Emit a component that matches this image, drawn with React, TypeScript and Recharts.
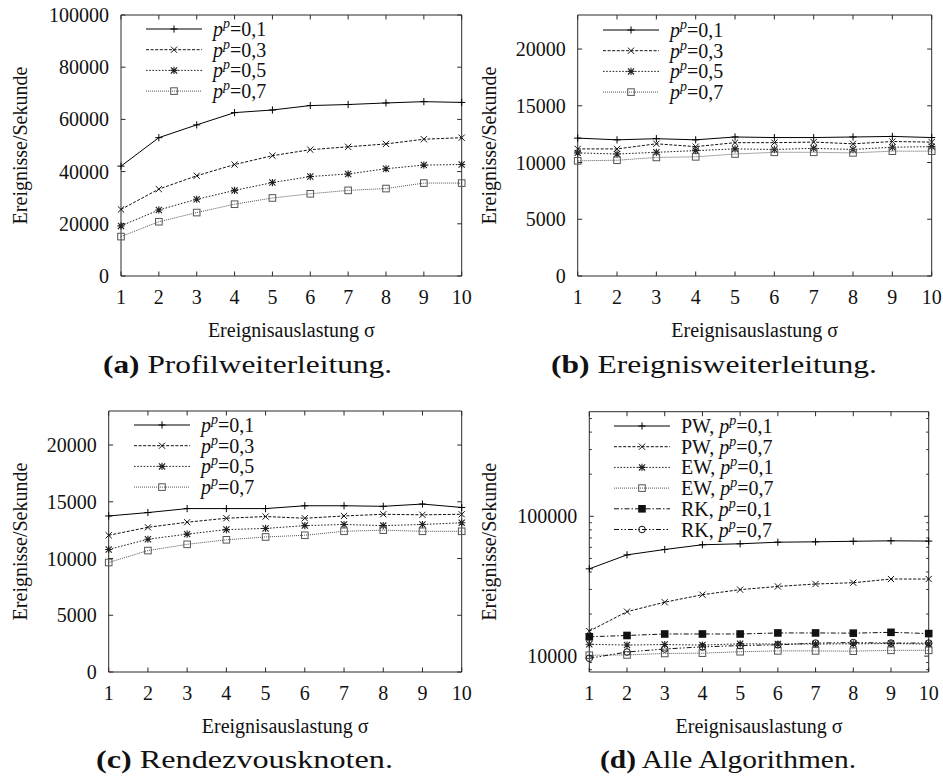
import React from 'react';
import { LineChart, Line, XAxis, YAxis, Legend } from 'recharts';

// ---------------- data ----------------
const sigma = [1, 2, 3, 4, 5, 6, 7, 8, 9, 10];
const xTicks = [1, 2, 3, 4, 5, 6, 7, 8, 9, 10];

// (a) Profilweiterleitung
const pw01 = [42100, 53000, 57900, 62600, 63600, 65300, 65700, 66300, 66800, 66500];
const pw03 = [25500, 33300, 38400, 42700, 46100, 48400, 49500, 50600, 52400, 53000];
const pw05 = [19200, 25300, 29400, 32800, 35800, 38100, 39100, 41100, 42500, 42700];
const pw07 = [15100, 20800, 24300, 27500, 29900, 31500, 32800, 33500, 35600, 35600];

// (b) Ereignisweiterleitung
const ew01 = [12150, 12000, 12100, 12000, 12250, 12200, 12200, 12250, 12300, 12200];
const ew03 = [11200, 11200, 11650, 11400, 11750, 11750, 11800, 11650, 11850, 11800];
const ew05 = [10850, 10750, 10900, 11050, 11200, 11150, 11250, 11150, 11350, 11400];
const ew07 = [10150, 10200, 10450, 10500, 10750, 10900, 10900, 10850, 11000, 11000];

// (c) Rendezvousknoten
const rk01 = [13750, 14050, 14400, 14400, 14400, 14650, 14650, 14600, 14800, 14500];
const rk03 = [12050, 12750, 13200, 13550, 13700, 13550, 13750, 13900, 13850, 13900];
const rk05 = [10800, 11700, 12150, 12550, 12650, 12900, 13000, 12900, 13000, 13150];
const rk07 = [9650, 10700, 11250, 11650, 11900, 12050, 12400, 12500, 12400, 12400];

const linTicksA = [0, 20000, 40000, 60000, 80000, 100000];
const linTicksBC = [0, 5000, 10000, 15000, 20000];
const logTicksMajor = [10000, 100000];
const logTicksAll = [8000, 9000, 10000, 20000, 30000, 40000, 50000, 60000, 70000, 80000, 90000, 100000, 200000, 300000, 400000, 500000];

const pValues = ['0,1', '0,3', '0,5', '0,7'];
const xTitle = 'Ereignisauslastung σ';
const yTitle = 'Ereignisse/Sekunde';

// ---------------- styles ----------------
const FONT = '"Liberation Serif", "Times New Roman", serif';
const AXIS_COLOR = '#2a2a2a';
const TEXT_COLOR = '#111';
const TICK = 4.5;
const MINOR = 2.5;

type Marker = 'plus' | 'cross' | 'star' | 'square' | 'fsquare' | 'circle';
interface Series {
  key: string;
  values: number[];
  marker: Marker;
  dash?: string;
  color: string;
  prefix: string;
  p: string;
}

const STYLE = {
  s1: { marker: 'plus' as Marker, dash: undefined, color: '#000' },
  s2: { marker: 'cross' as Marker, dash: '3 1.6', color: '#111' },
  s3: { marker: 'star' as Marker, dash: '1.6 1.6', color: '#222' },
  s4: { marker: 'square' as Marker, dash: '1 1', color: '#555' },
  s5: { marker: 'fsquare' as Marker, dash: '5 2 1.5 2', color: '#111' },
  s6: { marker: 'circle' as Marker, dash: '5 2 1.5 2 1.5 2', color: '#111' },
};

function markerShape(m: Marker, cx: number, cy: number, color: string) {
  const s = 3.6;
  const c = 3.1;
  const plus = `M${cx - s},${cy}H${cx + s}M${cx},${cy - s}V${cy + s}`;
  const cross = `M${cx - c},${cy - c}L${cx + c},${cy + c}M${cx - c},${cy + c}L${cx + c},${cy - c}`;
  switch (m) {
    case 'plus':
      return <path d={plus} stroke={color} strokeWidth={1} fill="none" />;
    case 'cross':
      return <path d={cross} stroke={color} strokeWidth={1} fill="none" />;
    case 'star':
      return <path d={plus + cross} stroke={color} strokeWidth={1.1} fill="none" />;
    case 'square':
      return <rect x={cx - 3.3} y={cy - 3.3} width={6.6} height={6.6} stroke={color} strokeWidth={1} fill="none" />;
    case 'fsquare':
      return <rect x={cx - 3.8} y={cy - 3.8} width={7.6} height={7.6} fill={color} stroke="none" />;
    case 'circle':
      return <circle cx={cx} cy={cy} r={3.3} stroke={color} strokeWidth={1} fill="none" />;
  }
  return null;
}

function makeDot(m: Marker, color: string) {
  return (props: any) => {
    const { cx, cy, index } = props;
    if (cx == null || cy == null) return <g key={`e${index}`} />;
    return <g key={`d${index}`}>{markerShape(m, cx, cy, color)}</g>;
  };
}

function PLabel({ x, y, prefix, p }: { x: number; y: number; prefix: string; p: string }) {
  return (
    <text x={x} y={y} fontFamily={FONT} fontSize={20} fill={TEXT_COLOR}>
      {prefix}
      <tspan fontStyle="italic">p</tspan>
      <tspan fontStyle="italic" fontSize={14} dy={-8}>p</tspan>
      <tspan dy={8}>={p}</tspan>
    </text>
  );
}

const ROW = 20.7;

function LegendBox({ payload, series }: { payload: any[]; series: Series[] }) {
  const keys = new Set((payload || []).map((pl: any) => pl.dataKey));
  const filtered = series.filter((s) => keys.has(s.key));
  const list = filtered.length ? filtered : series;
  return (
    <svg width={230} height={list.length * ROW + 14} style={{ display: 'block', overflow: 'visible' }}>
      {list.map((s, i) => {
        const y = 12 + i * ROW;
        return (
          <g key={s.key}>
            <line x1={2} y1={y} x2={58} y2={y} stroke={s.color} strokeWidth={1} strokeDasharray={s.dash} />
            {markerShape(s.marker, 30, y, s.color)}
            <PLabel x={69} y={y + 7} prefix={s.prefix} p={s.p} />
          </g>
        );
      })}
    </svg>
  );
}

interface PanelCfg {
  id: string;
  left: number;
  top: number;
  W: number;
  H: number;
  L: number;
  T: number;
  R: number;
  B: number;
  series: Series[];
  yDomain: [number, number];
  yTicks: number[];
  yMajor: number[];
  log?: boolean;
  legX: number;
  legY: number;
  yTitleX: number;
}

function Panel({ cfg }: { cfg: PanelCfg }) {
  const { W, H, L, T, R, B, series } = cfg;
  const data = sigma.map((x, i) => {
    const row: any = { sigma: x };
    series.forEach((s) => {
      row[s.key] = s.values[i];
    });
    return row;
  });
  const margin = { left: L - 1, top: T - 1, right: W - R - 1, bottom: H - B - 1 };
  const isMajor = (v: number) => cfg.yMajor.includes(v);

  const bottomTick = (props: any) => {
    const { x, y, payload } = props;
    return (
      <g>
        <line x1={x} y1={y} x2={x} y2={y - TICK} stroke={AXIS_COLOR} strokeWidth={1} />
        <text x={x} y={y + 28} textAnchor="middle" fontFamily={FONT} fontSize={20} fill={TEXT_COLOR}>
          {payload.value}
        </text>
      </g>
    );
  };
  const topTick = (props: any) => {
    const { x, y } = props;
    return <line x1={x} y1={y} x2={x} y2={y + TICK} stroke={AXIS_COLOR} strokeWidth={1} />;
  };
  const leftTick = (props: any) => {
    const { x, y, payload } = props;
    const major = isMajor(payload.value);
    return (
      <g>
        <line x1={x} y1={y} x2={x + (major ? TICK : MINOR)} y2={y} stroke={AXIS_COLOR} strokeWidth={1} />
        {major && (
          <text x={x - 12} y={y + 7} textAnchor="end" fontFamily={FONT} fontSize={20} fill={TEXT_COLOR}>
            {String(payload.value)}
          </text>
        )}
      </g>
    );
  };
  const rightTick = (props: any) => {
    const { x, y, payload } = props;
    const major = isMajor(payload.value);
    return <line x1={x} y1={y} x2={x - (major ? TICK : MINOR)} y2={y} stroke={AXIS_COLOR} strokeWidth={1} />;
  };

  const axisLine = { stroke: AXIS_COLOR, strokeWidth: 1 };
  const yScale = cfg.log ? 'log' : 'linear';
  const cx = (L + R) / 2;
  const cy = (T + B) / 2;

  return (
    <div style={{ position: 'absolute', left: cfg.left, top: cfg.top, width: W, height: H }}>
      <LineChart width={W} height={H} data={data} margin={margin}>
        <XAxis
          dataKey="sigma"
          type="number"
          domain={[1, 10]}
          ticks={xTicks}
          interval={0}
          height={1}
          tickSize={0}
          tickMargin={0}
          tickLine={false}
          axisLine={axisLine}
          tick={bottomTick}
          label={{
            value: xTitle,
            content: () => (
              <text x={cx} y={B + 61} textAnchor="middle" fontFamily={FONT} fontSize={20} fill={TEXT_COLOR}>
                {xTitle}
              </text>
            ),
          }}
        />
        <XAxis
          xAxisId="top"
          orientation="top"
          dataKey="sigma"
          type="number"
          domain={[1, 10]}
          ticks={xTicks}
          interval={0}
          height={1}
          tickSize={0}
          tickMargin={0}
          tickLine={false}
          axisLine={axisLine}
          tick={topTick}
        />
        <YAxis
          type="number"
          scale={yScale as any}
          domain={cfg.yDomain}
          allowDataOverflow
          ticks={cfg.yTicks}
          interval={0}
          width={1}
          tickSize={0}
          tickMargin={0}
          tickLine={false}
          axisLine={axisLine}
          tick={leftTick}
          label={{
            value: yTitle,
            content: () => (
              <text
                transform={`translate(${cfg.yTitleX},${cy}) rotate(-90)`}
                x={0}
                y={0}
                textAnchor="middle"
                fontFamily={FONT}
                fontSize={20}
                fill={TEXT_COLOR}
              >
                {yTitle}
              </text>
            ),
          }}
        />
        <YAxis
          yAxisId="right"
          orientation="right"
          type="number"
          scale={yScale as any}
          domain={cfg.yDomain}
          allowDataOverflow
          ticks={cfg.yTicks}
          interval={0}
          width={1}
          tickSize={0}
          tickMargin={0}
          tickLine={false}
          axisLine={axisLine}
          tick={rightTick}
        />
        {series.map((s) => (
          <Line
            key={s.key}
            type="linear"
            dataKey={s.key}
            stroke={s.color}
            strokeWidth={1}
            strokeDasharray={s.dash}
            dot={makeDot(s.marker, s.color)}
            activeDot={false}
            isAnimationActive={false}
          />
        ))}
        <Legend
          layout="vertical"
          verticalAlign="middle"
          align="center"
          wrapperStyle={{
            left: cfg.legX - 2,
            top: cfg.legY - 12,
            width: 230,
            height: series.length * ROW + 14,
            margin: 0,
            padding: 0,
          }}
          content={(props: any) => <LegendBox payload={props.payload} series={series} />}
        />
      </LineChart>
    </div>
  );
}

function mk(key: string, values: number[], st: { marker: Marker; dash?: string; color: string }, prefix: string, p: string): Series {
  return { key, values, marker: st.marker, dash: st.dash, color: st.color, prefix, p };
}

const seriesA = [
  mk('a1', pw01, STYLE.s1, '', pValues[0]),
  mk('a3', pw03, STYLE.s2, '', pValues[1]),
  mk('a5', pw05, STYLE.s3, '', pValues[2]),
  mk('a7', pw07, STYLE.s4, '', pValues[3]),
];
const seriesB = [
  mk('b1', ew01, STYLE.s1, '', pValues[0]),
  mk('b3', ew03, STYLE.s2, '', pValues[1]),
  mk('b5', ew05, STYLE.s3, '', pValues[2]),
  mk('b7', ew07, STYLE.s4, '', pValues[3]),
];
const seriesC = [
  mk('c1', rk01, STYLE.s1, '', pValues[0]),
  mk('c3', rk03, STYLE.s2, '', pValues[1]),
  mk('c5', rk05, STYLE.s3, '', pValues[2]),
  mk('c7', rk07, STYLE.s4, '', pValues[3]),
];
const seriesD = [
  mk('pw1', pw01, STYLE.s1, 'PW, ', pValues[0]),
  mk('pw7', pw07, STYLE.s2, 'PW, ', pValues[3]),
  mk('ew1', ew01, STYLE.s3, 'EW, ', pValues[0]),
  mk('ew7', ew07, STYLE.s4, 'EW, ', pValues[3]),
  mk('rk1', rk01, STYLE.s5, 'RK, ', pValues[0]),
  mk('rk7', rk07, STYLE.s6, 'RK, ', pValues[3]),
];

const panels: PanelCfg[] = [
  { id: 'a', left: 0, top: 0, W: 485, H: 390, L: 121, T: 15, R: 461.7, B: 276, series: seriesA, yDomain: [0, 100000], yTicks: linTicksA, yMajor: linTicksA, legX: 146, legY: 29, yTitleX: 27 },
  { id: 'b', left: 470, top: 0, W: 473, H: 390, L: 107.7, T: 15, R: 461.7, B: 276, series: seriesB, yDomain: [0, 23000], yTicks: linTicksBC, yMajor: linTicksBC, legX: 133, legY: 30, yTitleX: 26 },
  { id: 'c', left: 0, top: 390, W: 485, H: 389, L: 108.7, T: 21, R: 461.7, B: 282, series: seriesC, yDomain: [0, 23000], yTicks: linTicksBC, yMajor: linTicksBC, legX: 134, legY: 35, yTitleX: 27 },
  { id: 'd', left: 470, top: 390, W: 473, H: 389, L: 119.3, T: 21.7, R: 458.7, B: 282, series: seriesD, yDomain: [7700, 560000], yTicks: logTicksAll, yMajor: logTicksMajor, log: true, legX: 144, legY: 36, yTitleX: 26 },
];

const captions = [
  { tag: '(a)', text: 'Profilweiterleitung.', x: 103, y: 373, len: 289 },
  { tag: '(b)', text: 'Ereignisweiterleitung.', x: 551, y: 373, len: 326 },
  { tag: '(c)', text: 'Rendezvousknoten.', x: 96, y: 768, len: 297 },
  { tag: '(d)', text: 'Alle Algorithmen.', x: 600, y: 768, len: 256 },
];

export default function App() {
  return (
    <div style={{ position: 'absolute', left: 0, top: 0, width: 943, height: 779, background: '#fff', overflow: 'hidden' }}>
      {panels.map((p) => (
        <Panel key={p.id} cfg={p} />
      ))}
      <svg width={943} height={779} style={{ position: 'absolute', left: 0, top: 0, pointerEvents: 'none' }}>
        {captions.map((c) => (
          <text
            key={c.tag}
            x={c.x}
            y={c.y}
            fontFamily={FONT}
            fontSize={25}
            fill={TEXT_COLOR}
            textLength={c.len}
            lengthAdjust="spacingAndGlyphs"
          >
            <tspan fontWeight="bold">{c.tag}</tspan> {c.text}
          </text>
        ))}
      </svg>
    </div>
  );
}
